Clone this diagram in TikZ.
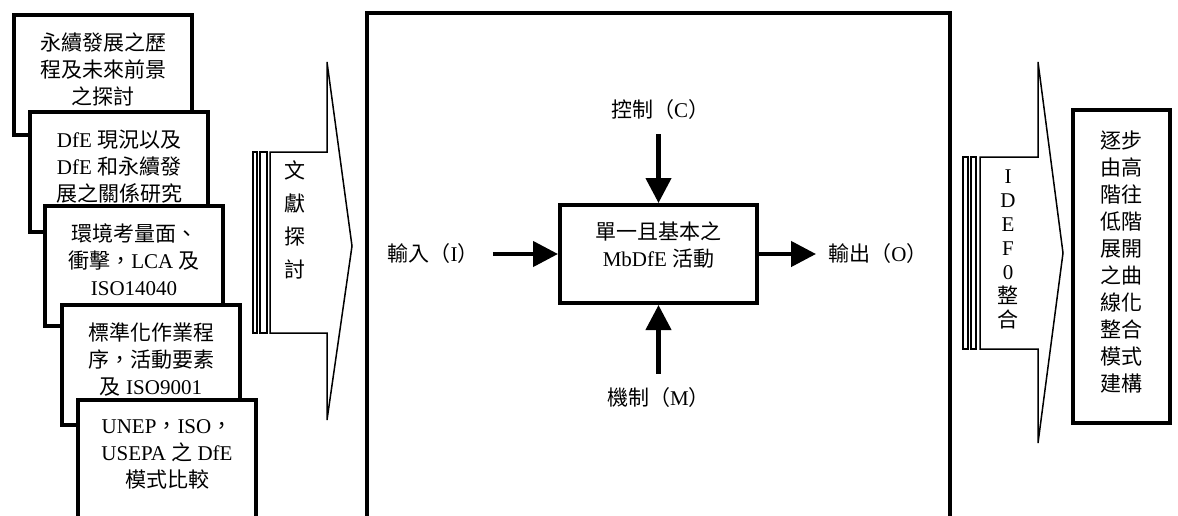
\documentclass[tikz,border=0pt]{standalone}
\usepackage{fontspec}
\setmainfont{Liberation Serif}
\newfontfamily\cjk{Noto Sans CJK TC}
\newcommand\zh[1]{{\cjk #1}}
\usetikzlibrary{arrows.meta,positioning}
\tikzset{
  basefont/.style={font=\fontsize{10.5pt}{13.5pt}\selectfont},
  stackbox/.style={rectangle,draw=black,line width=2pt,fill=white,basefont,
                   align=center,minimum width=89pt,minimum height=60pt,
                   inner sep=0pt,text depth=6pt,anchor=north west},
  actbox/.style={rectangle,draw=black,line width=2pt,fill=white,basefont,
                 align=center,minimum width=98.5pt,minimum height=49pt,
                 inner sep=0pt,text depth=10pt},
  endbox/.style={rectangle,draw=black,line width=2pt,fill=white,basefont,
                 align=center,minimum width=48.5pt,minimum height=156.5pt,
                 inner sep=0pt,text depth=5pt},
  framebox/.style={rectangle,draw=black,line width=1.75pt,
                   minimum width=291.5pt,minimum height=287pt},
  lbl/.style={basefont,inner sep=2pt},
  vtext/.style={font=\fontsize{10.5pt}{16.5pt}\selectfont,align=center,inner sep=0pt},
  vtextb/.style={font=\fontsize{10.5pt}{12pt}\selectfont,align=center,inner sep=0pt},
  bigarrow/.style={draw=black,line width=0.75pt,fill=white},
  arr/.style={-{Triangle[length=12.5pt,width=12.5pt]},line width=2.2pt}
}
\begin{document}
\begin{tikzpicture}[x=0.5pt,y=-0.5pt]
  \clip (0,0) rectangle (1178,515);

  % literature boxes, stacked
  \node[stackbox] (hist) at (12,13)
      {\zh{永續發展之歷}\\\zh{程及未來前景}\\\zh{之探討}};
  \node[stackbox] (dfe) at (28,110)
      {DfE \zh{現況以及}\\DfE \zh{和永續發}\\\zh{展之關係研究}};
  \node[stackbox] (lca) at (43,204)
      {\zh{環境考量面、}\\\zh{衝擊，}LCA \zh{及}\\ISO14040};
  \node[stackbox] (sop) at (60,303)
      {\zh{標準化作業程}\\\zh{序，活動要素}\\\zh{及} ISO9001};
  \node[stackbox] (cmp) at (76,398)
      {UNEP\zh{，}ISO\zh{，}\\USEPA \zh{之} DfE\\\zh{模式比較}};

  % striped arrow: literature review
  \draw[bigarrow] (253,152) rectangle (257,333);
  \draw[bigarrow] (260,152) rectangle (267,333);
  \draw[bigarrow] (270,152) -- (327,152) -- (327,62) -- (352,246)
      -- (327,420) -- (327,333) -- (270,333) -- cycle;
  \node[vtext] (lit) at (295,220) {\zh{文}\\\zh{獻}\\\zh{探}\\\zh{討}};

  % IDEF0 frame
  \node[framebox] (frame) at (658.5,300) {};
  \node[actbox] (act) at (658.5,254) {\zh{單一且基本之}\\MbDfE \zh{活動}};
  \node[lbl] (ctl) at (660,110) {\zh{控制（}C\zh{）}};
  \node[lbl] (mech) at (658.5,398) {\zh{機制（}M\zh{）}};
  \node[lbl] (inp) at (433,254) {\zh{輸入（}I\zh{）}};
  \node[lbl] (outp) at (878,254) {\zh{輸出（}O\zh{）}};

  \draw[arr,shorten <=5pt] (ctl.south -| act) -- (act);
  \draw[arr,shorten <=5pt] (mech) -- (act);
  \draw[arr,shorten <=5pt] (inp) -- (act);
  \draw[arr,shorten >=4pt] (act) -- (outp);

  % striped arrow: IDEF0 integration
  \draw[bigarrow] (963,157) rectangle (968,349);
  \draw[bigarrow] (971,157) rectangle (976,349);
  \draw[bigarrow] (980,157) -- (1038,157) -- (1038,62) -- (1063,253)
      -- (1038,443) -- (1038,349) -- (980,349) -- cycle;
  \node[vtextb] (idef) at (1008,249.5) {I\\D\\E\\F\\0\\\zh{整}\\\zh{合}};

  \node[endbox] (model) at (1121.5,266.5)
      {\zh{逐步}\\\zh{由高}\\\zh{階往}\\\zh{低階}\\\zh{展開}\\\zh{之曲}\\
       \zh{線化}\\\zh{整合}\\\zh{模式}\\\zh{建構}};
\end{tikzpicture}
\end{document}
